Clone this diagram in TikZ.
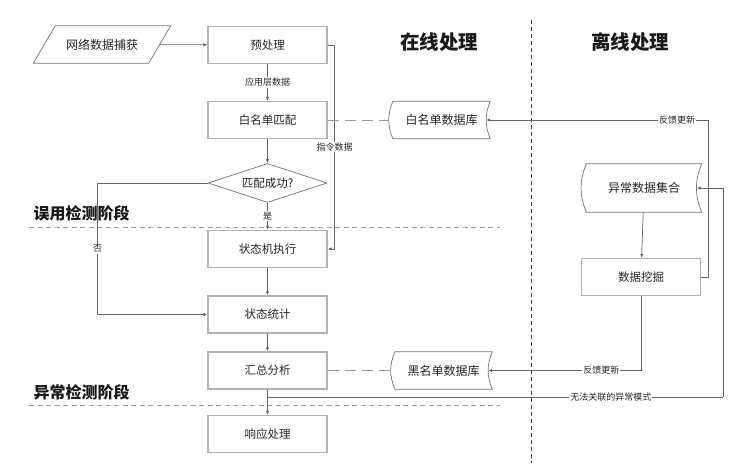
\documentclass[tikz,border=0pt]{standalone}
\usepackage{fontspec}
\setmainfont{Noto Sans CJK SC}
\usetikzlibrary{shapes.geometric,arrows.meta,positioning}

\begin{document}
\begin{tikzpicture}[x=1pt,y=-1pt,
    box/.style={draw=gray!60,line width=1.2pt,minimum width=119pt,minimum height=37pt,
        text=black!85,font=\fontsize{11.5}{14}\selectfont},
    store/.style={minimum width=97pt,minimum height=37pt,text=black!85,font=\fontsize{12}{14}\selectfont},
    outline/.style={draw=black!55,line width=0.7pt},
    capbox/.style={minimum height=37pt,minimum width=115pt,text=black!85,font=\fontsize{12}{14}\selectfont},
    dia/.style={diamond,outline,aspect=3,inner sep=0pt,minimum width=119pt,minimum height=39pt,
        text=black!85,font=\fontsize{11.5}{14}\selectfont},
    conn/.style={draw=black!60,line width=0.7pt},
    arr/.style={conn,-{Latex[length=4pt,width=3.5pt]}},
    link/.style={draw=gray!80,line width=1pt,dash pattern=on 11pt off 6pt},
    lbl/.style={fill=white,inner sep=1pt,text=black!85,font=\fontsize{9}{11}\selectfont},
    stage/.style={anchor=west,text=black!90,font=\fontsize{16}{18}\selectfont\bfseries},
    head/.style={text=black!90,font=\fontsize{19.5}{22}\selectfont\bfseries},
    sep/.style={draw=gray!75,line width=1pt,dash pattern=on 5pt off 3.5pt},
    vsep/.style={draw=black!75,line width=0.8pt,dash pattern=on 4pt off 3pt}
]
\useasboundingbox (0,0) rectangle (751,463);

% stages
\draw[sep] (29,227) -- (500,227);
\draw[sep] (29,405) -- (500,405);
\draw[vsep] (531,20) -- (531,463);
\node[stage] (misuse) at (30,213) {误用检测阶段};
\node[stage] (anomaly) at (30,392) {异常检测阶段};
\node[head] (online) at (439,42) {在线处理};
\node[head] (offline) at (630,42) {离线处理};

% online
\node[capbox] (capture) at (102,44.5) {网络数据捕获};
\draw[outline] ([xshift=11pt]capture.north west) -- ([xshift=11pt]capture.north east)
    -- ([xshift=-11pt]capture.south east) -- ([xshift=-11pt]capture.south west) -- cycle;
\node[box] (pre) at (267.5,45) {预处理};
\node[box] (white) at (267.5,120) {白名单匹配};
\node[dia] (match) at (267.5,183) {匹配成功?};
\node[box] (fsm) at (267.5,249) {状态机执行};
\node[box] (stat) at (267.5,314.5) {状态统计};
\node[box] (sum) at (267.5,370.5) {汇总分析};
\node[box] (resp) at (267.5,434) {响应处理};
\node[store] (wdb) at (441.5,120) {白名单数据库};
\node[store] (bdb) at (443.5,370.5) {黑名单数据库};

% offline
\node[store,minimum width=115pt,minimum height=48pt] (adb) at (644,188) {异常数据集合};
\node[box] (mine) at (641,277) {数据挖掘};

\foreach \n in {wdb,bdb,adb}
    \draw[outline] (\n.north west) to[out=-112,in=112] (\n.south west)
        -- (\n.south east) to[out=112,in=-112] (\n.north east) -- cycle;

\draw[arr] (capture) -- (pre);
\draw[arr] (pre) -- node[lbl]{应用层数据} (white);
\draw[arr] (white) -- (match);
\draw[arr] (match) -- node[lbl]{是} (fsm);
\draw[arr] (fsm) -- (stat);
\draw[arr] (stat) -- (sum);
\draw[arr] (sum) -- (resp);
\draw[arr] (match.west) -- ++(-110,0) |- node[lbl,pos=0.25]{否} (stat.west);
\draw[arr] (pre.east) -- ++(7,0) |- node[lbl,pos=0.25]{指令数据} (fsm.east);

\draw[link] (white.east) -- ([xshift=-4pt]wdb.west);
\draw[link] (sum.east) -- ([xshift=-4pt]bdb.west);

\draw[arr] (adb) -- (mine);
\draw[arr] (mine.east) -- ++(7,0) |- node[lbl,pos=0.57]{反馈更新} ([xshift=-4pt]wdb.east);
\draw[arr] (mine.south) |- node[lbl,pos=0.63]{反馈更新} ([xshift=-4pt]bdb.east);
\coordinate (split) at (267.5,397);
\coordinate (turn) at (723,397);
\draw[conn] (split) -- node[lbl,pos=0.754]{无法关联的异常模式} (turn);
\draw[arr] (turn) |- ([xshift=-5pt]adb.east);
\end{tikzpicture}
\end{document}
